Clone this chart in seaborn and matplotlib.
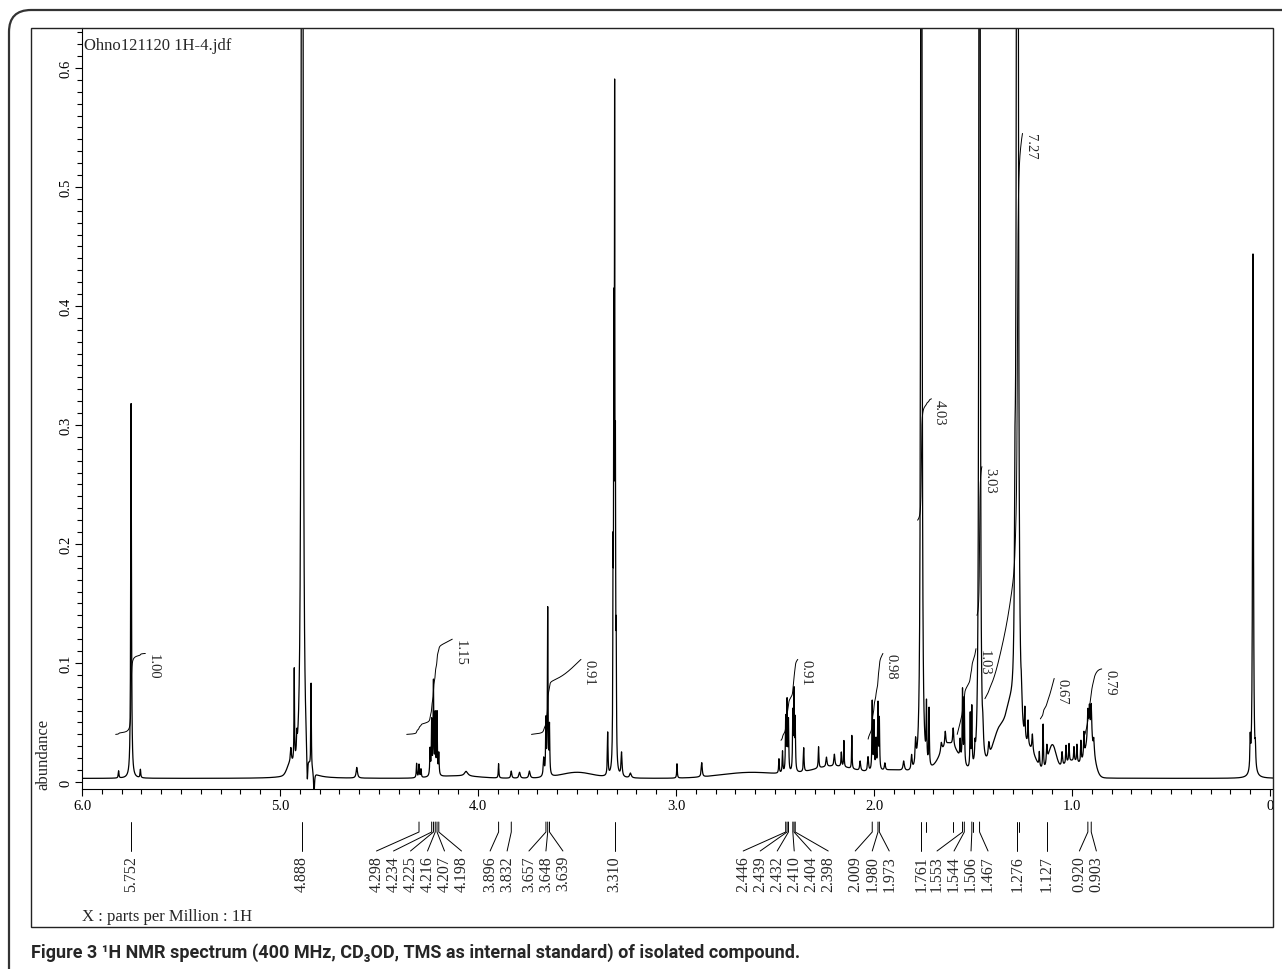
import numpy as np
import pandas as pd
import seaborn as sns
import matplotlib.pyplot as plt
from matplotlib.patches import FancyBboxPatch, Rectangle
from matplotlib.ticker import MultipleLocator
from matplotlib.transforms import blended_transform_factory, IdentityTransform

# sharp lines: shift (ppm), height (abundance), half width (ppm)
peak_ppm = [5.815, 5.752, 5.705,
            4.945, 4.928, 4.915, 4.888, 4.862, 4.843, 4.828, 4.612,
            4.310, 4.298, 4.288, 4.242, 4.234, 4.225, 4.216, 4.207, 4.198, 4.06,
            3.896, 3.832, 3.79, 3.74, 3.668, 3.657, 3.648, 3.639,
            3.345, 3.318, 3.314, 3.310, 3.306, 3.302, 3.275, 3.23, 2.995, 2.870,
            2.480, 2.462, 2.446, 2.439, 2.432, 2.410, 2.404, 2.398, 2.355, 2.28,
            2.24, 2.20, 2.165, 2.152, 2.112, 2.07, 2.03,
            2.009, 2.000, 1.990, 1.980, 1.973, 1.945, 1.85, 1.81, 1.79,
            1.761, 1.735, 1.722, 1.66, 1.64, 1.60, 1.565, 1.553, 1.544, 1.514,
            1.506, 1.49, 1.467, 1.45, 1.42,
            1.288, 1.276, 1.255, 1.238, 1.222, 1.20, 1.165, 1.146, 1.127,
            1.05, 1.03, 1.015, 0.99, 0.975, 0.955, 0.94, 0.920, 0.912, 0.903, 0.89,
            0.100, 0.086, 0.074]
peak_height = [0.006, 0.315, 0.007,
               0.012, 0.078, 0.015, 3.0, -0.028, 0.072, -0.02, 0.009,
               0.012, 0.011, 0.007, 0.022, 0.045, 0.078, 0.050, 0.052, 0.018, 0.004,
               0.012, 0.006, 0.005, 0.006, 0.015, 0.045, 0.140, 0.040,
               0.036, 0.15, 0.33, 0.52, 0.22, 0.09, 0.02, 0.004, 0.012, 0.012,
               0.012, 0.018, 0.045, 0.058, 0.042, 0.048, 0.065, 0.042, 0.02, 0.018,
               0.008, 0.01, 0.012, 0.022, 0.028, 0.008, 0.012,
               0.058, 0.04, 0.025, 0.055, 0.042, 0.006, 0.008, 0.012, 0.02,
               2.5, 0.048, 0.048, 0.008, 0.012, 0.015, 0.015, 0.06, 0.055, 0.045,
               0.05, 0.012, 2.5, 0.015, 0.012,
               0.12, 2.5, 0.02, 0.025, 0.02, 0.015, 0.012, 0.038, 0.015,
               0.012, 0.015, 0.015, 0.012, 0.015, 0.018, 0.02, 0.025, 0.025, 0.03, 0.012,
               0.025, 0.44, 0.015]
peak_hwhm = [0.002, 0.0022, 0.002,
             0.003, 0.0015, 0.002, 0.0025, 0.003, 0.0015, 0.0025, 0.004,
             0.002, 0.002, 0.002, 0.002, 0.0018, 0.0018, 0.0018, 0.0018, 0.002, 0.01,
             0.0018, 0.003, 0.004, 0.004, 0.003, 0.0018, 0.0018, 0.0018,
             0.002, 0.0014, 0.0014, 0.0014, 0.0014, 0.0014, 0.003, 0.005, 0.0018, 0.003,
             0.002, 0.002, 0.0018, 0.0018, 0.0018, 0.0018, 0.0018, 0.0018, 0.002, 0.002,
             0.003, 0.003, 0.002, 0.0015, 0.0015, 0.003, 0.003,
             0.0018, 0.0018, 0.002, 0.0018, 0.0018, 0.003, 0.004, 0.003, 0.003,
             0.002, 0.0018, 0.0018, 0.004, 0.003, 0.003, 0.002, 0.0018, 0.0018, 0.0018,
             0.0018, 0.002, 0.002, 0.003, 0.004,
             0.003, 0.003, 0.003, 0.002, 0.002, 0.003, 0.002, 0.002, 0.003,
             0.003, 0.002, 0.002, 0.002, 0.002, 0.002, 0.002, 0.003, 0.003, 0.003, 0.003,
             0.002, 0.0025, 0.002]

# broad humps under the lines: centre (ppm), height, sigma (ppm)
hump_ppm = [4.95, 4.10, 3.50, 2.62, 2.20, 1.90, 1.62, 1.36, 1.31, 1.22, 1.10, 1.00, 0.91]
hump_height = [0.008, 0.002, 0.005, 0.005, 0.010, 0.006, 0.028, 0.040, 0.030, 0.020, 0.025, 0.014, 0.028]
hump_sigma = [0.015, 0.10, 0.08, 0.15, 0.12, 0.08, 0.05, 0.04, 0.02, 0.04, 0.02, 0.05, 0.022]
baseline = 0.003

# picked peaks printed under the axis
pick_ppm = [5.752, 4.888, 4.298, 4.234, 4.225, 4.216, 4.207, 4.198, 3.896, 3.832,
            3.657, 3.648, 3.639, 3.310, 2.446, 2.439, 2.432, 2.410, 2.404, 2.398,
            2.009, 1.980, 1.973, 1.761, 1.553, 1.544, 1.506, 1.467, 1.276, 1.127,
            0.920, 0.903]
extra_pick_ppm = [1.737, 1.600, 1.498, 1.266]

# integrals: range (ppm), drawn from low to high level, value
int_start = [5.83, 4.36, 3.73, 2.47, 2.03, 1.78, 1.48, 1.58, 1.44, 1.16, 0.935]
int_end = [5.68, 4.13, 3.48, 2.385, 1.955, 1.71, 1.455, 1.485, 1.25, 1.09, 0.85]
int_low = [0.040, 0.040, 0.040, 0.035, 0.036, 0.22, 0.14, 0.040, 0.07, 0.053, 0.040]
int_high = [0.108, 0.120, 0.103, 0.103, 0.108, 0.322, 0.265, 0.112, 0.545, 0.087, 0.095]
int_label = ['1.00', '1.15', '0.91', '0.91', '0.98', '4.03', '3.03', '1.03', '7.27', '0.67', '0.79']

x_ticks = [6.0, 5.0, 4.0, 3.0, 2.0, 1.0, 0.0]
x_tick_labels = ['6.0', '5.0', '4.0', '3.0', '2.0', '1.0', '0']
y_ticks = [0.0, 0.1, 0.2, 0.3, 0.4, 0.5, 0.6]
y_tick_labels = ['0', '0.1', '0.2', '0.3', '0.4', '0.5', '0.6']

sns.set_style('ticks')
plt.rcParams['font.family'] = ['Liberation Serif', 'DejaVu Serif']

W, H = 1282, 970
PX_PER_PPM = 198.0


def fx(px):
    return px / W


def fy(py):
    return 1 - py / H


fig = plt.figure(figsize=(W / 100, H / 100), dpi=100)
ax = fig.add_axes([fx(82), fy(790), fx(1273) - fx(82), fy(29) - fy(790)])

# spectrum built from the peak list
ppm = np.linspace(-0.015, 6.0, 40000)
spec = np.full_like(ppm, baseline)
for c, h, w in zip(peak_ppm, peak_height, peak_hwhm):
    spec += h * w ** 2 / ((ppm - c) ** 2 + w ** 2)
for c, h, s in zip(hump_ppm, hump_height, hump_sigma):
    spec += h * np.exp(-0.5 * ((ppm - c) / s) ** 2)

df = pd.DataFrame({'ppm': ppm, 'abundance': spec})
sns.lineplot(data=df, x='ppm', y='abundance', ax=ax, color='black', lw=0.9,
             estimator=None, sort=False)

# integral curves
for s, e, lo, hi, lab in zip(int_start, int_end, int_low, int_high, int_label):
    m = (ppm <= s) & (ppm >= e)
    xs = ppm[m][::-1]
    ys = spec[m][::-1] - baseline
    cum = np.concatenate([[0], np.cumsum((ys[1:] + ys[:-1]) / 2 * np.abs(np.diff(xs)))])
    cum = cum / cum[-1]
    ax.plot(xs, lo + cum * (hi - lo), color='black', lw=0.7)
    ax.text(e - 8 / PX_PER_PPM, hi, lab, rotation=270, ha='center', va='top', fontsize=10.5)

ax.set_xlim(6.0, -0.015)
ax.set_ylim(-0.0059, 0.6336)
ax.set_xticks(x_ticks, labels=x_tick_labels)
ax.set_yticks(y_ticks, labels=y_tick_labels)
ax.xaxis.set_minor_locator(MultipleLocator(0.1))
ax.yaxis.set_minor_locator(MultipleLocator(0.01))
ax.tick_params(which='major', length=5, width=0.8, direction='out', labelsize=10.5, pad=2,
               color='black', labelcolor='black')
ax.tick_params(which='minor', length=3.5, width=0.8, direction='out', color='black')
ax.tick_params(axis='y', labelrotation=90)
for t in ax.get_yticklabels():
    t.set_va('center')
ax.set_xlabel('')
ax.set_ylabel('')
sns.despine(ax=ax, top=True, right=True)
for sp in ('left', 'bottom'):
    ax.spines[sp].set_color('black')
    ax.spines[sp].set_linewidth(0.8)

# picked peak labels: crowded peaks form a block of evenly spaced labels,
# each block centred on its first (highest shift) peak
gap = 17 / PX_PER_PPM
blocks = [[0]]
for i in range(1, len(pick_ppm)):
    if pick_ppm[blocks[-1][-1]] - pick_ppm[i] < gap:
        blocks[-1].append(i)
    else:
        blocks.append([i])
lab_x = [0.0] * len(pick_ppm)
for b in blocks:
    centre = pick_ppm[b[0]]
    for k, i in enumerate(b):
        lab_x[i] = centre + gap * ((len(b) - 1) / 2 - k)

tr = blended_transform_factory(ax.transData, fig.transFigure)
for p, lx in zip(pick_ppm, lab_x):
    ax.plot([p, p, lx], [fy(823), fy(833), fy(852)], transform=tr, clip_on=False,
            color='black', lw=0.7)
    ax.text(lx, fy(856), f'{p:.3f}', rotation=90, ha='center', va='top', transform=tr,
            fontsize=11.5)
for p in extra_pick_ppm:
    ax.plot([p, p], [fy(823), fy(833)], transform=tr, clip_on=False, color='black', lw=0.7)

fig.text(fx(43), fy(790), 'abundance', rotation=90, ha='center', va='bottom', fontsize=12)
fig.text(fx(84), fy(46), 'Ohno121120 1H-4.jdf', ha='left', va='center', fontsize=12)
fig.text(fx(82), fy(917), 'X : parts per Million : 1H', ha='left', va='center', fontsize=12)

# frames
fig.add_artist(Rectangle((fx(31), fy(928)), fx(1273) - fx(31), fy(29) - fy(928),
                         transform=fig.transFigure, fill=False, lw=1.0, ec='#222222'))
fig.add_artist(FancyBboxPatch((9, -50), 1400, H - 11 + 50,
                              boxstyle='round,pad=0,rounding_size=22',
                              transform=IdentityTransform(), fill=False, lw=1.6, ec='#333333'))

fig.text(fx(31), fy(953),
         'Figure 3 \u00b9H NMR spectrum (400 MHz, CD\u2083OD, TMS as internal standard) of isolated compound.',
         ha='left', va='center', fontsize=13, fontweight='bold',
         family=['Roboto', 'DejaVu Sans'])

fig.savefig('out.png', dpi=100)
